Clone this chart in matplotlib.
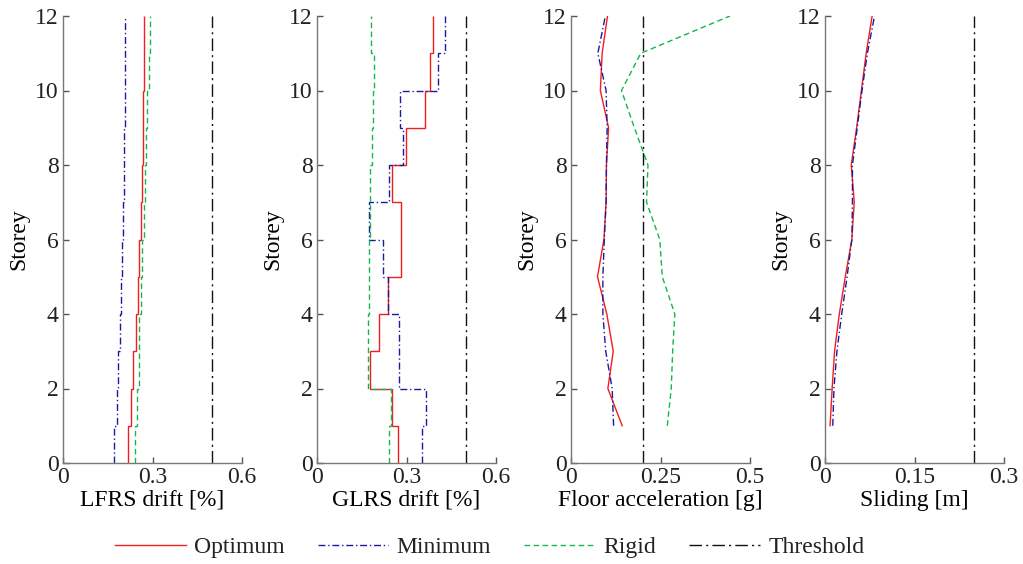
import numpy as np
import matplotlib
matplotlib.use('Agg')
import matplotlib.pyplot as plt
from matplotlib.lines import Line2D

plt.rcParams['font.family'] = ['Liberation Serif', 'DejaVu Serif']
plt.rcParams['font.size'] = 17
plt.rcParams['text.color'] = '#222222'

storey_edges = np.arange(0, 13)
storeys = np.arange(1, 13)

# drift per storey (storey 1 .. 12)
lfrs_opt = [0.219, 0.228, 0.236, 0.245, 0.250, 0.256, 0.261, 0.264, 0.267, 0.269, 0.270, 0.270]
lfrs_min = [0.172, 0.182, 0.186, 0.190, 0.196, 0.199, 0.201, 0.203, 0.205, 0.207, 0.208, 0.209]
lfrs_rig = [0.242, 0.249, 0.256, 0.256, 0.260, 0.264, 0.270, 0.275, 0.279, 0.283, 0.287, 0.290]

glrs_opt = [0.271, 0.253, 0.178, 0.207, 0.237, 0.283, 0.280, 0.250, 0.298, 0.363, 0.379, 0.390]
glrs_min = [0.353, 0.364, 0.275, 0.275, 0.239, 0.221, 0.174, 0.241, 0.289, 0.277, 0.404, 0.428]
glrs_rig = [0.242, 0.247, 0.170, 0.172, 0.174, 0.174, 0.177, 0.179, 0.184, 0.187, 0.192, 0.180]

# floor values (floor 1 .. 12)
acc_opt = [0.143, 0.103, 0.118, 0.100, 0.074, 0.092, 0.098, 0.099, 0.105, 0.082, 0.087, 0.102]
acc_min = [0.119, 0.115, 0.097, 0.089, 0.089, 0.093, 0.098, 0.099, 0.101, 0.098, 0.075, 0.096]
acc_rig = [0.269, 0.280, 0.284, 0.290, 0.255, 0.248, 0.211, 0.215, 0.177, 0.141, 0.195, 0.444]

slide_opt = [0.0085, 0.012, 0.016, 0.024, 0.034, 0.045, 0.049, 0.044, 0.053, 0.061, 0.069, 0.079]
slide_min = [0.013, 0.015, 0.020, 0.028, 0.037, 0.045, 0.046, 0.046, 0.054, 0.062, 0.071, 0.083]

thresholds = [0.5, 0.5, 0.2, 0.25]
xlabels = ['LFRS drift [%]', 'GLRS drift [%]', 'Floor acceleration [g]', 'Sliding [m]']
xticks = [[0, 0.3, 0.6], [0, 0.3, 0.6], [0, 0.25, 0.5], [0, 0.15, 0.3]]
xticklabels = [['0', '0.3', '0.6'], ['0', '0.3', '0.6'], ['0', '0.25', '0.5'], ['0', '0.15', '0.3']]

c_opt = '#f01e1e'
c_min = '#1a1aa0'
c_rig = '#12b84a'
ls_min = (0, (5, 2, 1, 2))
ls_rig = (0, (4, 2.5))
ls_thr = (0, (9, 3, 1.5, 3))

fig = plt.figure(figsize=(10.23, 5.64), dpi=100)
lefts = [63, 317, 571, 825]
axes = []
for l in lefts:
    ax = fig.add_axes([l / 1023, 1 - 463 / 564, 179 / 1023, 447 / 564])
    axes.append(ax)

lw = 1.0
axes[0].stairs(lfrs_opt, storey_edges, orientation='horizontal', baseline=None, color=c_opt, lw=lw)
axes[0].stairs(lfrs_min, storey_edges, orientation='horizontal', baseline=None, color=c_min, lw=lw, ls=ls_min)
axes[0].stairs(lfrs_rig, storey_edges, orientation='horizontal', baseline=None, color=c_rig, lw=lw, ls=ls_rig)

axes[1].stairs(glrs_opt, storey_edges, orientation='horizontal', baseline=None, color=c_opt, lw=lw)
axes[1].stairs(glrs_min, storey_edges, orientation='horizontal', baseline=None, color=c_min, lw=lw, ls=ls_min)
axes[1].stairs(glrs_rig, storey_edges, orientation='horizontal', baseline=None, color=c_rig, lw=lw, ls=ls_rig)

axes[2].plot(acc_opt, storeys, color=c_opt, lw=lw)
axes[2].plot(acc_min, storeys, color=c_min, lw=lw, ls=ls_min)
axes[2].plot(acc_rig, storeys, color=c_rig, lw=lw, ls=ls_rig)

axes[3].plot(slide_opt, storeys, color=c_opt, lw=lw)
axes[3].plot(slide_min, storeys, color=c_min, lw=lw, ls=ls_min)

for i, ax in enumerate(axes):
    ax.axvline(thresholds[i], color='#111111', lw=lw, ls=ls_thr)
    ax.set_xlim(xticks[i][0], xticks[i][-1])
    ax.set_ylim(0, 12)
    ax.set_xticks(xticks[i])
    ax.set_xticklabels(xticklabels[i])
    ax.set_yticks(range(0, 13, 2))
    ax.set_xlabel(xlabels[i], labelpad=1)
    ax.set_ylabel('Storey', labelpad=4)
    for s in ['top', 'right']:
        ax.spines[s].set_visible(False)
    for s in ['left', 'bottom']:
        ax.spines[s].set_color('#777777')
        ax.spines[s].set_linewidth(1.0)
    ax.tick_params(direction='in', length=4, width=1, color='#555555',
                   labelcolor='#222222', pad=3)

handles = [Line2D([], [], color=c_opt, lw=lw),
           Line2D([], [], color=c_min, lw=lw, ls=ls_min),
           Line2D([], [], color=c_rig, lw=lw, ls=ls_rig),
           Line2D([], [], color='#111111', lw=lw, ls=ls_thr)]
fig.legend(handles, ['Optimum', 'Minimum', 'Rigid', 'Threshold'], loc='center',
           bbox_to_anchor=(0.4785, 1 - 547 / 564), ncol=4, frameon=False,
           handlelength=3.0, handletextpad=0.35, columnspacing=1.4)

fig.savefig('out.png', dpi=100)
